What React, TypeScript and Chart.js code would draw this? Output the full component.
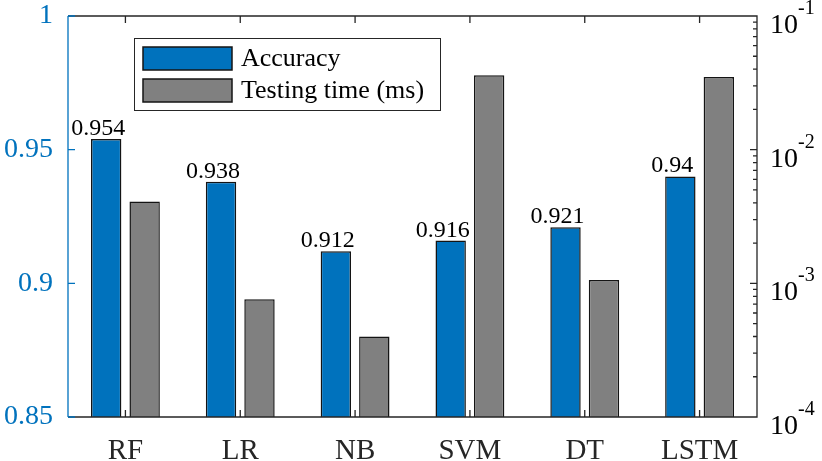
import React, { useEffect, useRef } from "react";
import { Chart, registerables } from "chart.js";

Chart.register(...registerables);

// data
const categories = ["RF", "LR", "NB", "SVM", "DT", "LSTM"];
const accuracy = [0.954, 0.938, 0.912, 0.916, 0.921, 0.94];
const testingTime = [0.0041, 0.00076, 0.0004, 0.036, 0.00106, 0.035];
const accuracyTicks = [0.85, 0.9, 0.95, 1];
const timeTicks = [1e-4, 1e-3, 1e-2, 1e-1];
const timeTickExponents = ["-4", "-3", "-2", "-1"];

const FONT = '"Liberation Serif", "Times New Roman", Times, serif';
const BLUE = "#0072BD";
const GRAY = "#808080";
const EDGE = "#141414";
const AXIS = "#262626";

const decorPlugin = {
  id: "decor",
  afterDraw(chart: any) {
    const { ctx, chartArea: a, scales } = chart;
    const x = scales.x;
    const y = scales.y;
    const y2 = scales.y2;
    ctx.save();

    // value labels above accuracy bars (slightly left of centre, as in the figure)
    const meta = chart.getDatasetMeta(0);
    ctx.fillStyle = "#000";
    ctx.font = `24px ${FONT}`;
    ctx.textAlign = "center";
    ctx.textBaseline = "alphabetic";
    meta.data.forEach((bar: any, i: number) => {
      ctx.fillText(String(accuracy[i]), bar.x - 8, bar.y - 4);
    });

    // frame + x ticks + right log ticks
    ctx.lineWidth = 1.3;
    ctx.strokeStyle = AXIS;
    ctx.beginPath();
    ctx.moveTo(a.left, a.top);
    ctx.lineTo(a.right, a.top);
    ctx.lineTo(a.right, a.bottom);
    ctx.lineTo(a.left, a.bottom);
    categories.forEach((_, i) => {
      const px = x.getPixelForValue(i);
      ctx.moveTo(px, a.top);
      ctx.lineTo(px, a.top + 7);
      ctx.moveTo(px, a.bottom);
      ctx.lineTo(px, a.bottom - 7);
    });
    for (let e = -4; e < -1; e++) {
      for (let m = 1; m < 10; m++) {
        const py = y2.getPixelForValue(m * Math.pow(10, e));
        ctx.moveTo(a.right, py);
        ctx.lineTo(a.right - (m === 1 ? 7 : 4), py);
      }
    }
    ctx.stroke();

    // left axis in blue
    ctx.strokeStyle = BLUE;
    ctx.beginPath();
    ctx.moveTo(a.left, a.top);
    ctx.lineTo(a.left, a.bottom);
    accuracyTicks.forEach((v) => {
      const py = y.getPixelForValue(v);
      ctx.moveTo(a.left, py);
      ctx.lineTo(a.left + 7, py);
    });
    ctx.stroke();

    // right axis labels 10^k
    ctx.fillStyle = "#000";
    ctx.textAlign = "left";
    timeTicks.forEach((v, i) => {
      const py = y2.getPixelForValue(v);
      const lx = a.right + 13;
      ctx.font = `28px ${FONT}`;
      ctx.fillText("10", lx, py + 17);
      const w = ctx.measureText("10").width;
      ctx.font = `20px ${FONT}`;
      ctx.fillText(timeTickExponents[i], lx + w, py - 2);
    });

    // legend
    ctx.fillStyle = "#fff";
    ctx.fillRect(134, 38, 306, 72);
    ctx.strokeStyle = AXIS;
    ctx.lineWidth = 1;
    ctx.strokeRect(134.5, 38.5, 306, 72);
    const items = [
      { label: chart.data.datasets[0].label, color: BLUE, top: 47 },
      { label: chart.data.datasets[1].label, color: GRAY, top: 79 },
    ];
    ctx.font = `26px ${FONT}`;
    ctx.textBaseline = "middle";
    items.forEach((it) => {
      ctx.fillStyle = it.color;
      ctx.fillRect(143, it.top, 89, 23);
      ctx.strokeStyle = EDGE;
      ctx.lineWidth = 1.5;
      ctx.strokeRect(143, it.top, 89, 23);
      ctx.fillStyle = "#000";
      ctx.fillText(it.label, 241, it.top + 12);
    });

    ctx.restore();
  },
};

const App: React.FC = () => {
  const canvasRef = useRef<HTMLCanvasElement>(null);

  useEffect(() => {
    if (!canvasRef.current) return;
    const chart = new Chart(canvasRef.current, {
      type: "bar",
      data: {
        labels: categories,
        datasets: [
          {
            label: "Accuracy",
            data: accuracy,
            yAxisID: "y",
            backgroundColor: BLUE,
            borderColor: EDGE,
            borderWidth: 1.5,
            categoryPercentage: 0.67,
            barPercentage: 0.79,
          },
          {
            label: "Testing time (ms)",
            data: testingTime,
            yAxisID: "y2",
            backgroundColor: GRAY,
            borderColor: EDGE,
            borderWidth: 1.5,
            categoryPercentage: 0.67,
            barPercentage: 0.79,
          },
        ],
      },
      options: {
        animation: false,
        responsive: true,
        maintainAspectRatio: false,
        layout: { padding: { top: 16, left: 0, right: 0, bottom: 0 } },
        plugins: {
          legend: { display: false },
          tooltip: { enabled: false },
        },
        scales: {
          x: {
            grid: { display: false, drawTicks: false },
            border: { display: false },
            ticks: {
              color: AXIS,
              font: { family: FONT, size: 29, lineHeight: 1 },
              padding: 20,
              maxRotation: 0,
              autoSkip: false,
            },
            afterFit: (s: any) => {
              s.height = 44;
              s.paddingLeft = 0;
              s.paddingRight = 0;
            },
          },
          y: {
            position: "left",
            min: 0.85,
            max: 1,
            grid: { display: false, drawTicks: false },
            border: { display: false },
            afterBuildTicks: (s: any) => {
              s.ticks = accuracyTicks.map((v) => ({ value: v }));
            },
            ticks: {
              color: BLUE,
              font: { family: FONT, size: 28, lineHeight: 1 },
              padding: 15,
              callback: (v: any) => String(v),
            },
            afterFit: (s: any) => {
              s.width = 68;
              s.paddingTop = 0;
              s.paddingBottom = 0;
            },
          },
          y2: {
            type: "logarithmic",
            position: "right",
            min: 1e-4,
            max: 1e-1,
            grid: { display: false, drawTicks: false },
            border: { display: false },
            ticks: { display: false },
            afterFit: (s: any) => {
              s.width = 65;
              s.paddingTop = 0;
              s.paddingBottom = 0;
            },
          },
        },
      },
      plugins: [decorPlugin],
    });
    return () => {
      chart.destroy();
    };
  }, []);

  return (
    <div style={{ position: "absolute", left: 0, top: 0, width: 822, height: 461, background: "#fff" }}>
      <canvas ref={canvasRef}></canvas>
    </div>
  );
};

export default App;
